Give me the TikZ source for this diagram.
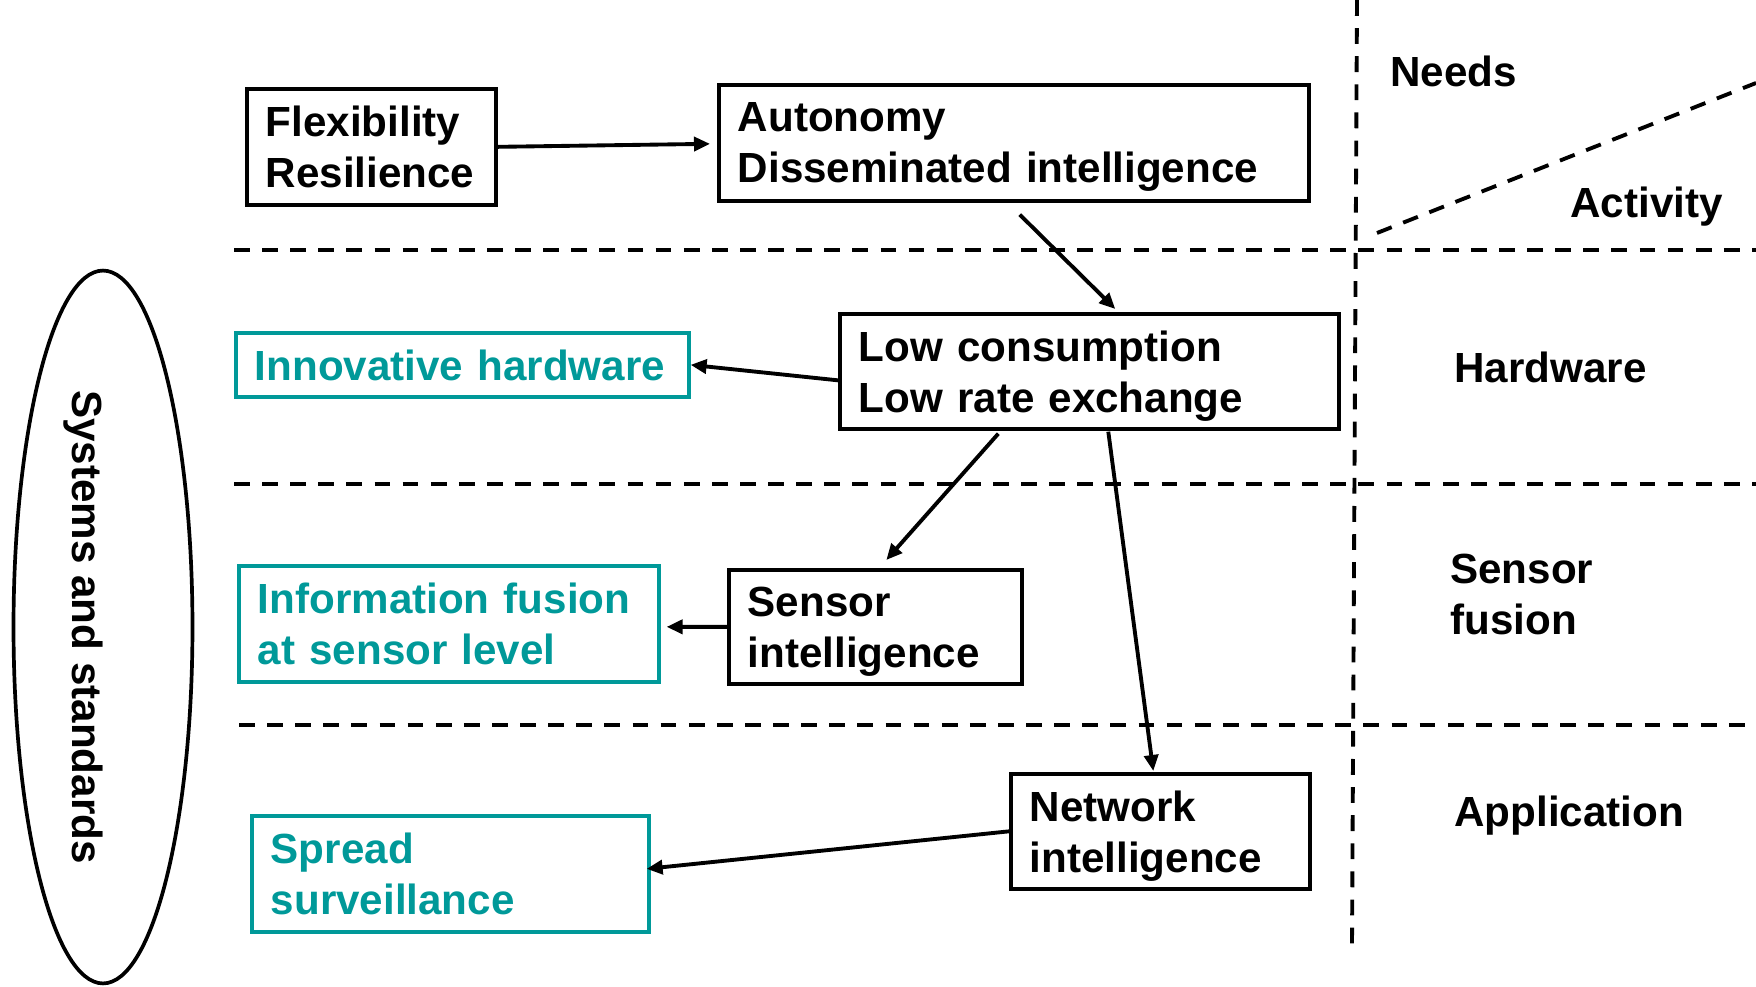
\documentclass[tikz,border=0pt]{standalone}
\usepackage{fontspec}
\setmainfont{Liberation Sans}
\usetikzlibrary{arrows.meta,calc}
\definecolor{outteal}{RGB}{0,153,153}

\begin{document}
\begin{tikzpicture}[x=0.02cm, y=-0.02cm,
    box/.style={draw, line width=2.1pt, anchor=north west, align=left,
        inner xsep=0.38cm, inner ysep=0pt, minimum height=2.32cm, text depth=29pt,
        font=\fontsize{24}{29}\selectfont\bfseries},
    outbox/.style={box, draw=outteal, text=outteal},
    lbl/.style={inner sep=0pt, anchor=base west,
        font=\fontsize{24}{29}\selectfont\bfseries},
    sep/.style={line width=2.2pt, dash pattern=on 9pt off 7pt},
    link/.style={line width=2.2pt, -{Triangle[length=0.32cm, width=0.28cm]}}]
    \useasboundingbox (0,0) rectangle (1756,987);

    % Layer separators
    \draw[sep] (234,250) -- (1756,250);
    \draw[sep] (234,484) -- (1756,484);
    \draw[sep] (239,725) -- (1756,725);
    \draw[sep] (1357,0) -- (1352,946);
    \draw[sep] (1377,233) -- (1756,83);

    % Layer labels
    \node[lbl] (needs) at (1390,86) {Needs};
    \node[lbl] (activity) at (1570,217) {Activity};
    \node[lbl] (hw) at (1454,382) {Hardware};
    \node[lbl, anchor=north west, align=left] (sf) at (1450,554) {Sensor\\fusion};
    \node[lbl] (app) at (1454,826) {Application};

    % Systems and standards
    \draw[line width=2.1pt] (103,627) ellipse [x radius=1.79cm, y radius=7.13cm];
    \node[lbl, anchor=center, rotate=-90] (sysstd) at (83,627) {Systems and standards};

    % Needs
    \node[box, text width=4.22cm] (flex) at (245,87) {Flexibility\\Resilience};
    \node[box, text width=11.04cm] (auto) at (717,83) {Autonomy\\Disseminated intelligence};

    % Activities
    \node[box, text width=9.22cm, minimum height=2.30cm] (lowc) at (838,312)
        {Low consumption\\Low rate exchange};
    \node[box, text width=5.10cm, minimum height=2.28cm] (sensint) at (727,568)
        {Sensor\\intelligence};
    \node[box, text width=5.22cm, minimum height=2.30cm] (netint) at (1009,772)
        {Network\\intelligence};

    % Outcomes
    \node[outbox, text width=8.30cm, minimum height=1.28cm, text depth=0pt] (innov) at (234,331)
        {Innovative hardware};
    \node[outbox, text width=7.64cm] (infus) at (237,564)
        {Information fusion\\at sensor level};
    \node[outbox, text width=7.18cm] (spread) at (250,814)
        {Spread\\surveillance};

    % Links
    \draw[link] (flex.east) -- ($(auto.west)+(-7,1)$);
    \draw[link] ($(auto.south)+(6,12)$) -- ($(lowc.north)+(26,-3)$);
    \draw[link] ($(lowc.west)+(0,9)$) -- (innov.east);
    \draw[link] ($(lowc.south)+(-91,3)$) -- ($(sensint.north)+(11,-8)$);
    \draw[link] ($(lowc.south)+(19,1)$) -- ($(netint.north)+(-7,-1)$);
    \draw[link] (sensint.west) -- ($(infus.east)+(6,3)$);
    \draw[link] (netint.west) -- ($(spread.east)+(-4,-5)$);
\end{tikzpicture}
\end{document}
